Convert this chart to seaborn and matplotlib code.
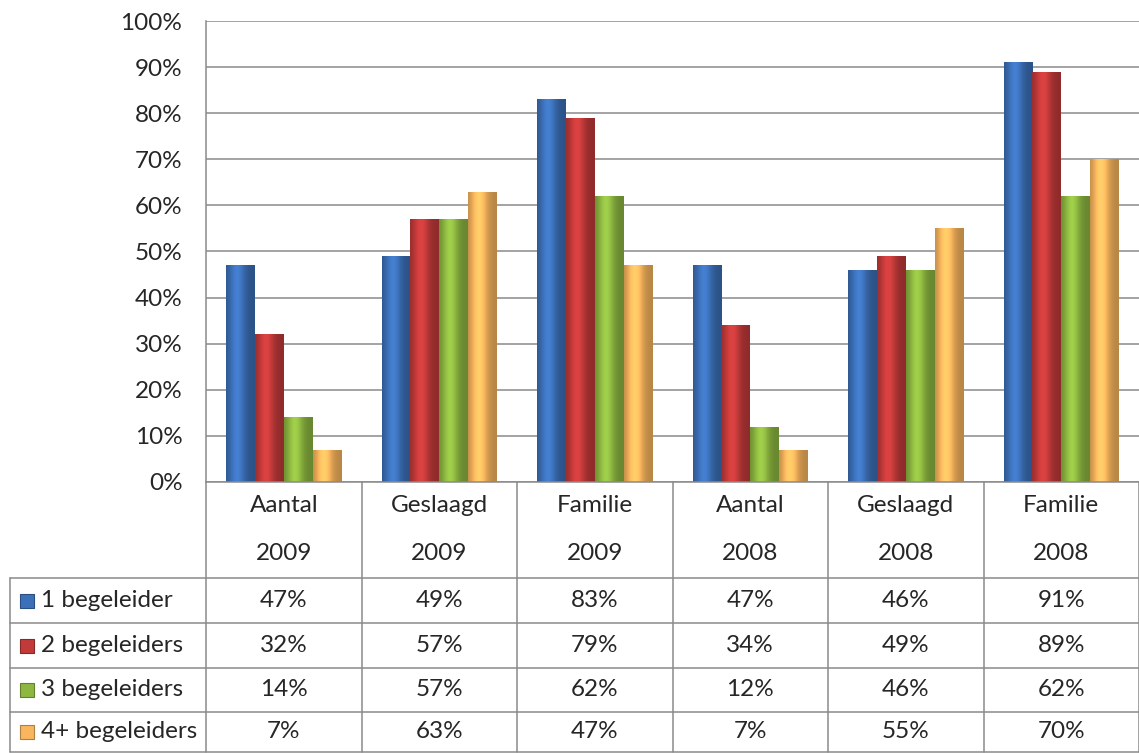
import numpy as np
import pandas as pd
import matplotlib
matplotlib.use("Agg")
import matplotlib.pyplot as plt
import seaborn as sns
from matplotlib.colors import to_rgb
from matplotlib.patches import Rectangle
from matplotlib.lines import Line2D

# data
categories = ["Aantal", "Geslaagd", "Familie", "Aantal", "Geslaagd", "Familie"]
years = ["2009", "2009", "2009", "2008", "2008", "2008"]
series = ["1 begeleider", "2 begeleiders", "3 begeleiders", "4+ begeleiders"]
een = [47, 49, 83, 47, 46, 91]
twee = [32, 57, 79, 34, 49, 89]
drie = [14, 57, 62, 12, 46, 62]
vier = [7, 63, 47, 7, 55, 70]
colors = ["#3C70B8", "#C23A3A", "#8DB741", "#F9B65E"]

W, H = 1139, 753
FS = 17.5
groups = [f"{c}\n{y}" for c, y in zip(categories, years)]
rows = []
for name, vals in zip(series, [een, twee, drie, vier]):
    for g, v in zip(groups, vals):
        rows.append({"groep": g, "reeks": name, "waarde": v})
df = pd.DataFrame(rows)

sns.set_style("white")
plt.rcParams["font.family"] = ["Lato", "DejaVu Sans"]
grid_col = "#8a8a8a"

fig = plt.figure(figsize=(W / 100, H / 100), dpi=100)
x0, x1, ytop, ybot = 206, 1139, 21, 482
ax = fig.add_axes([x0 / W, 1 - ybot / H, (x1 - x0) / W, (ybot - ytop) / H])

sns.barplot(data=df, x="groep", y="waarde", hue="reeks", palette=colors,
            width=0.74, gap=0, saturation=1, legend=False, ax=ax,
            edgecolor="none", zorder=3)

# fake the bevelled excel look with a horizontal shade per bar
t = np.linspace(0, 1, 64)
shade = 0.74 + 0.40 * np.exp(-((t - 0.38) / 0.28) ** 2)
for p in list(ax.patches):
    base = np.array(to_rgb(p.get_facecolor()))
    img = np.clip(base[None, None, :] * shade[None, :, None], 0, 1)
    bx, by = p.get_x(), p.get_y()
    bw, bh = p.get_width(), p.get_height()
    im = ax.imshow(img, extent=[bx, bx + bw, by, by + bh], aspect="auto",
                   interpolation="bilinear", zorder=4)
    im.set_clip_path(p)

ax.set_xlim(-0.5, 5.5)
ax.set_ylim(0, 100)
ax.set_yticks(range(0, 101, 10))
ax.set_yticklabels([f"{v}%" for v in range(0, 101, 10)], fontsize=FS)
ax.tick_params(axis="y", length=0, pad=17)
ax.set_xticks([])
ax.set_xlabel("")
ax.set_ylabel("")
ax.yaxis.grid(True, color=grid_col, lw=1.1)
ax.set_axisbelow(True)
for s in ["top", "right", "bottom"]:
    ax.spines[s].set_visible(False)
ax.spines["left"].set_color(grid_col)
ax.spines["left"].set_linewidth(1.1)


def fx(x):
    return x / W


def fy(y):
    return 1 - y / H


def hline(y, xa, xb):
    fig.add_artist(Line2D([fx(xa), fx(xb)], [fy(y), fy(y)], color=grid_col, lw=1.1))


def vline(x, ya, yb):
    fig.add_artist(Line2D([fx(x), fx(x)], [fy(ya), fy(yb)], color=grid_col, lw=1.1))


col_w = (x1 - x0) / 6
row_lines = [578, 623, 668, 712, 752]
hline(ybot, x0, x1)
for y in row_lines:
    hline(y, 10, x1)
for i in range(7):
    vline(x0 + i * col_w, ybot, 752)
vline(10, 578, 752)

# header cells
for i, (c, y) in enumerate(zip(categories, years)):
    cx = x0 + (i + 0.5) * col_w
    fig.text(fx(cx), fy(505), c, ha="center", va="center", fontsize=FS)
    fig.text(fx(cx), fy(553), y, ha="center", va="center", fontsize=FS)

# data rows with legend keys
for r, (name, vals, col) in enumerate(zip(series, [een, twee, drie, vier], colors)):
    yc = (row_lines[r] + row_lines[r + 1]) / 2
    fig.add_artist(Rectangle((fx(20), fy(yc + 7)), 14 / W, 14 / H,
                             transform=fig.transFigure, facecolor=col,
                             edgecolor=np.clip(np.array(to_rgb(col)) * 0.7, 0, 1), lw=0.8))
    fig.text(fx(41), fy(yc), name, ha="left", va="center", fontsize=FS)
    for i, v in enumerate(vals):
        cx = x0 + (i + 0.5) * col_w
        fig.text(fx(cx), fy(yc), f"{v}%", ha="center", va="center", fontsize=FS)

fig.savefig("out.png", dpi=100)
